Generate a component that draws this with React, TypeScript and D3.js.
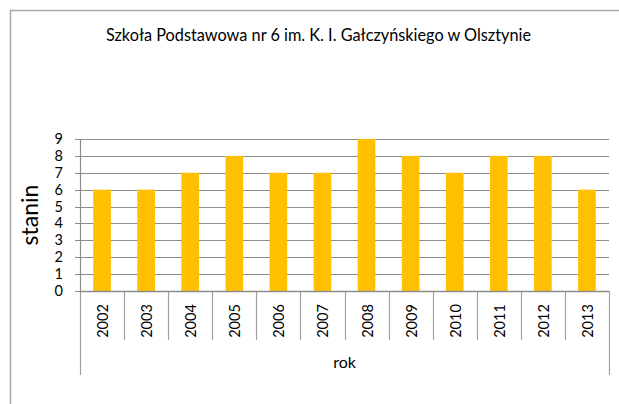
import React from "react";
import * as d3 from "d3";

const years = ["2002","2003","2004","2005","2006","2007","2008","2009","2010","2011","2012","2013"];
const stanin = [6,6,7,8,7,7,9,8,7,8,8,6];
const yTicks = [0,1,2,3,4,5,6,7,8,9];
const title = "Szkoła Podstawowa nr 6 im. K. I. Gałczyńskiego w Olsztynie";

const W = 619, H = 404;
const left = 80, right = 609, top = 139, bottom = 291;
const FONT = "Lato, 'Open Sans', sans-serif";

export default function App() {
  const x = d3.scaleBand<string>().domain(years).range([left, right]).paddingInner(0).paddingOuter(0);
  const y = d3.scaleLinear().domain([0, 9]).range([bottom, top]);
  const bw = x.bandwidth() * 0.4;
  const boundaries = d3.range(years.length + 1).map(i => left + i * x.bandwidth());
  return (
    <svg width={W} height={H} style={{ position: "absolute", left: 0, top: 0, background: "#fff" }}>
      <rect x={10.5} y={10.5} width={W + 10} height={H + 10} fill="#fff" stroke="#a6a6a6" strokeWidth={1.5} />
      <text x={318.5} y={41} textAnchor="middle" fontFamily={FONT} fontSize={16.3} fill="#000">{title}</text>
      {yTicks.map(t => (
        <g key={t}>
          <line x1={left - 5} x2={right} y1={Math.round(y(t)) + 0.5} y2={Math.round(y(t)) + 0.5} stroke="#8c8c8c" strokeWidth={1.2} />
          <text x={63} y={y(t) + 5} textAnchor="end" fontFamily={FONT} fontSize={14.5} fill="#000">{t}</text>
        </g>
      ))}
      {years.map((yr, i) => (
        <rect key={yr} x={x(yr)! + (x.bandwidth() - bw) / 2} y={y(stanin[i])} width={bw} height={bottom - y(stanin[i])} fill="#FFC000" />
      ))}
      <line x1={left + 0.5} x2={left + 0.5} y1={top} y2={bottom} stroke="#8c8c8c" strokeWidth={1.2} />
      {boundaries.map((bx, i) => (
        <line key={i} x1={Math.round(bx) + 0.5} x2={Math.round(bx) + 0.5} y1={bottom}
          y2={i === 0 || i === years.length ? 375 : 340} stroke="#a0a0a0" strokeWidth={1.2} />
      ))}
      <line x1={left} x2={right} y1={bottom + 0.5} y2={bottom + 0.5} stroke="#8c8c8c" strokeWidth={1.5} />
      {years.map(yr => {
        const cx = x(yr)! + x.bandwidth() / 2;
        return (
          <text key={yr} transform={`translate(${cx + 6},${321}) rotate(-90)`} textAnchor="middle"
            fontFamily={FONT} fontSize={14.5} fill="#000">{yr}</text>
        );
      })}
      <text x={344.5} y={368} textAnchor="middle" fontFamily={FONT} fontSize={16} fill="#000">rok</text>
      <text transform={`translate(38,215) rotate(-90)`} textAnchor="middle" fontFamily={FONT} fontSize={23} fill="#000">stanin</text>
    </svg>
  );
}
